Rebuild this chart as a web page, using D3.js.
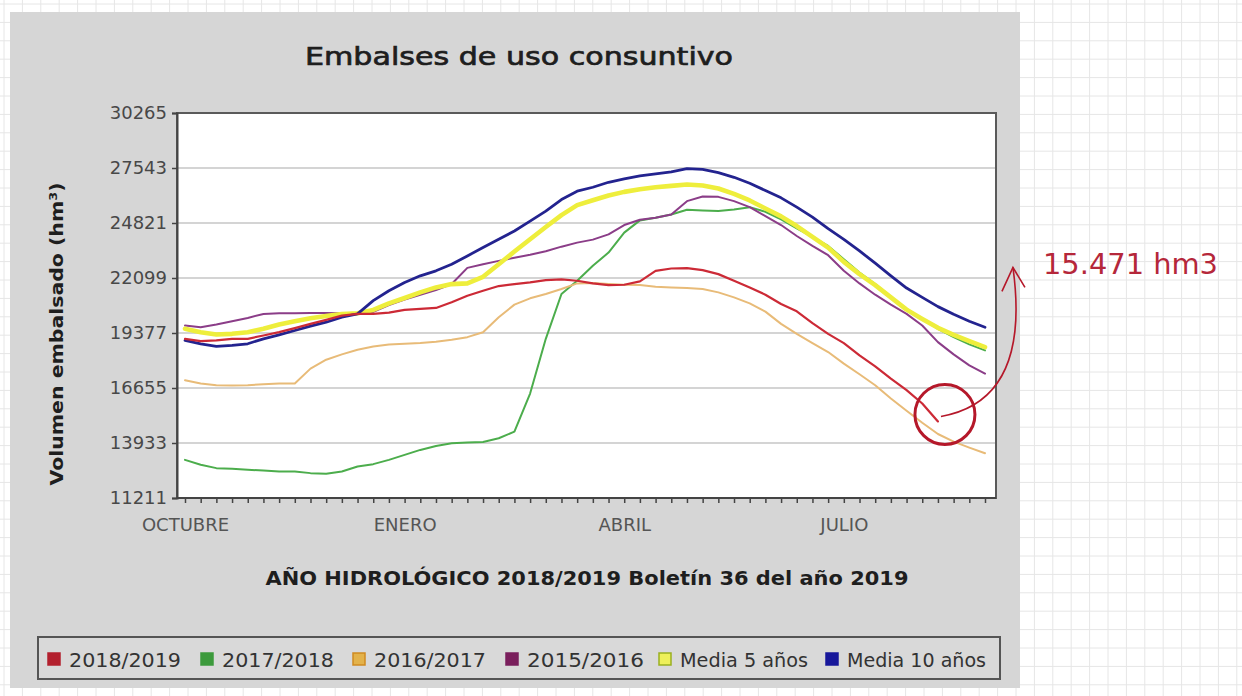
<!DOCTYPE html>
<html><head><meta charset="utf-8">
<script src="https://cdn.jsdelivr.net/npm/d3@7"></script>
<style>
body{margin:0;background:#fff}
svg{display:block}
text{font-family:"DejaVu Sans",sans-serif}
</style>
</head><body>
<svg id="c" width="1242" height="696"></svg>
<script>
// ---------- data ----------
const seriesNames = ["2018/2019","2017/2018","2016/2017","2015/2016","Media 5 años","Media 10 años"];
const monthLabels = ["OCTUBRE","ENERO","ABRIL","JULIO"];
const monthWeeks = [0,14,28,42];
const yTicks = [11211,13933,16655,19377,22099,24821,27543,30265];
const weekCount = 52;

const s2018_2019 = [19090,18975,19008,19090,19090,19254,19418,19615,19829,20026,
  20239,20321,20321,20387,20518,20567,20617,20896,21224,21470,
  21700,21798,21880,21995,22028,21963,21831,21749,21765,21930,
  22455,22570,22586,22488,22291,21963,21634,21273,20814,20452,
  19862,19336,18877,18269,17728,17120,16546,15889,15000];
const s2017_2018 = [13099,12853,12689,12656,12607,12574,12524,12524,12442,12409,
  12524,12771,12886,13099,13345,13591,13788,13919,13952,13985,
  14166,14494,16382,19090,21306,21963,22701,23358,24343,24950,
  25081,25245,25475,25442,25409,25491,25606,25377,24999,24556,
  24129,23686,23029,22373,21798,21175,20567,20075,19583,19172,18811,18516];
const s2016_2017 = [17038,16874,16792,16776,16792,16841,16874,16874,17613,18056,
  18319,18548,18713,18811,18844,18877,18942,19041,19172,19418,
  20157,20781,21093,21306,21552,21831,21847,21798,21765,21749,
  21667,21634,21601,21552,21388,21142,20846,20436,19829,19336,
  18877,18434,17859,17334,16792,16136,15528,14937,14379,14002,13706,13427];
const s2015_2016 = [19747,19665,19796,19960,20124,20321,20354,20354,20370,20370,
  20354,20321,20420,20764,21027,21273,21503,21800,22600,22783,
  22947,23100,23250,23420,23650,23850,23998,24260,24720,24983,
  25081,25245,25902,26132,26115,25902,25606,25163,24720,24178,
  23686,23226,22455,21831,21273,20781,20321,19747,18926,18319,17777,17367];
const media5 = [19583,19418,19304,19336,19418,19583,19796,19960,20108,20223,
  20321,20354,20518,20846,21109,21388,21634,21798,21831,22159,
  22783,23407,24014,24622,25213,25705,25950,26180,26361,26493,
  26591,26657,26723,26673,26526,26263,25935,25541,25147,24671,
  24129,23604,22898,22291,21749,21142,20534,20075,19632,19287,18975,18680];
const media10 = [19008,18844,18712,18762,18844,19090,19287,19500,19714,19910,
  20157,20321,20977,21470,21880,22208,22455,22783,23193,23604,
  24014,24424,24917,25409,25984,26394,26591,26837,27001,27149,
  27248,27346,27510,27477,27313,27083,26788,26427,26066,25606,
  25114,24539,24014,23439,22832,22208,21601,21142,20682,20304,19960,19664];
const annotationText = "15.471 hm3";

// ---------- drawing ----------
const W = 1242, H = 696;
const svg = d3.select("#c");

const seriesData = [s2018_2019, s2017_2018, s2016_2017, s2015_2016, media5, media10];
const lineColors = ["#cc2a36","#4cad4c","#e8bb78","#8b3d88","#eeee3c","#23238f"];
const lineWidths = [2.2,2,2,2,4.6,2.8];
const legendFill = ["#b3202e","#3c9a3c","#e3b24a","#7a1f5c","#eef05a","#17179a"];
const legendStroke = ["#b3202e","#3c9a3c","#d08a20","#7a1f5c","#9ab020","#17179a"];
const drawOrder = [1,3,2,4,5,0];

// page graph-paper background
const gridStep = 18.4;
const bg = svg.append("g");
bg.selectAll("line.v").data(d3.range(4, W, gridStep)).join("line")
  .attr("x1", d=>d).attr("x2", d=>d).attr("y1",0).attr("y2",H)
  .attr("stroke","#e6e6e6").attr("stroke-width",1);
bg.selectAll("line.h").data(d3.range(4, H, gridStep)).join("line")
  .attr("y1", d=>d).attr("y2", d=>d).attr("x1",0).attr("x2",W)
  .attr("stroke","#e6e6e6").attr("stroke-width",1);

// chart panel
svg.append("rect").attr("x",10).attr("y",12).attr("width",1010).attr("height",676)
  .attr("fill","#d6d6d6");

const plot = {left:177, right:996, top:113, bottom:498};
const x = d3.scaleLinear().domain([0, weekCount-1]).range([185, 985]);
const y = d3.scaleLinear().domain([yTicks[0], yTicks[yTicks.length-1]]).range([plot.bottom, plot.top]);

svg.append("rect").attr("x",plot.left).attr("y",plot.top)
  .attr("width",plot.right-plot.left).attr("height",plot.bottom-plot.top).attr("fill","#fff");

// horizontal gridlines
svg.append("g").selectAll("line").data(yTicks).join("line")
  .attr("x1",plot.left).attr("x2",plot.right)
  .attr("y1",d=>y(d)).attr("y2",d=>y(d))
  .attr("stroke","#d4d4d4").attr("stroke-width",2);

// series lines
const line = d3.line().x((d,i)=>x(i)).y(d=>y(d));
const gl = svg.append("g");
drawOrder.forEach(k=>{
  gl.append("path").datum(seriesData[k]).attr("d",line)
    .attr("fill","none").attr("stroke",lineColors[k]).attr("stroke-width",lineWidths[k])
    .attr("stroke-linejoin","round").attr("stroke-linecap","round");
});

// frame
svg.append("rect").attr("x",plot.left).attr("y",plot.top)
  .attr("width",plot.right-plot.left).attr("height",plot.bottom-plot.top)
  .attr("fill","none").attr("stroke","#5a5a5a").attr("stroke-width",2);

// y axis
const yAxis = svg.append("g").attr("transform",`translate(${plot.left},0)`)
  .call(d3.axisLeft(y).tickValues(yTicks).tickFormat(d3.format("d")).tickSize(5).tickPadding(5));
yAxis.select(".domain").attr("stroke","#444").attr("stroke-width",2);
yAxis.selectAll(".tick line").attr("stroke","#444").attr("stroke-width",1.5);
yAxis.selectAll(".tick text").attr("font-size",18).attr("fill","#484848")
  .attr("font-family","DejaVu Sans");

// x axis minor ticks (weekly)
const xAxis = svg.append("g").attr("transform",`translate(0,${plot.bottom})`)
  .call(d3.axisBottom(x).tickValues(d3.range(weekCount)).tickFormat("").tickSize(5));
xAxis.select(".domain").remove();
xAxis.selectAll(".tick line").attr("stroke","#444").attr("stroke-width",1.5);
svg.append("line").attr("x1",plot.left).attr("x2",plot.right)
  .attr("y1",plot.bottom).attr("y2",plot.bottom).attr("stroke","#444").attr("stroke-width",2);

// month labels
const xLab = svg.append("g").attr("transform",`translate(0,${plot.bottom})`)
  .call(d3.axisBottom(x).tickValues(monthWeeks)
    .tickFormat(d=>monthLabels[monthWeeks.indexOf(d)]).tickSize(0).tickPadding(20));
xLab.select(".domain").remove();
xLab.selectAll(".tick text").attr("font-size",18).attr("fill","#555")
  .attr("font-family","DejaVu Sans");

// titles
svg.append("text").attr("x",519).attr("y",65).attr("text-anchor","middle")
  .attr("font-size",25).attr("font-weight","normal").attr("fill","#1e1e1e")
  .attr("stroke","#1e1e1e").attr("stroke-width",0.7)
  .attr("textLength",428).attr("lengthAdjust","spacingAndGlyphs")
  .text("Embalses de uso consuntivo");
svg.append("text").attr("x",587).attr("y",585).attr("text-anchor","middle")
  .attr("font-size",20).attr("font-weight","bold").attr("fill","#1e1e1e")
  .attr("textLength",643).attr("lengthAdjust","spacingAndGlyphs")
  .text("AÑO HIDROLÓGICO 2018/2019 Boletín 36 del año 2019");
svg.append("text").attr("transform","translate(63,334) rotate(-90)").attr("text-anchor","middle")
  .attr("font-size",18).attr("font-weight","bold").attr("fill","#1e1e1e")
  .attr("textLength",303).attr("lengthAdjust","spacingAndGlyphs")
  .text("Volumen embalsado (hm³)");

// legend
svg.append("rect").attr("x",38).attr("y",637).attr("width",962).attr("height",42)
  .attr("fill","#d9d9d9").attr("stroke","#555").attr("stroke-width",2);
const legX = [48,201,353,506,659,826];
const legW = [112,112,112,117,128,139];
const lg = svg.append("g").selectAll("g").data(seriesNames).join("g")
  .attr("transform",(d,i)=>`translate(${legX[i]},659)`);
lg.append("rect").attr("x",0).attr("y",-6).attr("width",12).attr("height",12)
  .attr("fill",(d,i)=>legendFill[i]).attr("stroke",(d,i)=>legendStroke[i]).attr("stroke-width",1.5);
lg.append("text").attr("x",21).attr("y",8).attr("font-size",20).attr("fill","#333")
  .attr("textLength",(d,i)=>legW[i]).attr("lengthAdjust","spacingAndGlyphs")
  .text(d=>d);

// annotation
const lastIdx = s2018_2019.length-1;
const ax = x(lastIdx), ay = y(s2018_2019[lastIdx]);
svg.append("circle").attr("cx",ax+7).attr("cy",ay-7).attr("r",30)
  .attr("fill","none").attr("stroke","#b5182a").attr("stroke-width",3);
svg.append("path")
  .attr("d",`M${ax+3},${ay-5} C${ax+60},${ay-15} ${ax+88},${ay-60} ${ax+75},${ay-154}`)
  .attr("fill","none").attr("stroke","#b5182a").attr("stroke-width",1.6);
svg.append("path")
  .attr("d",`M${ax+64},${ay-130} L${ax+75},${ay-154} L${ax+87},${ay-134}`)
  .attr("fill","none").attr("stroke","#b5182a").attr("stroke-width",1.6);
svg.append("text").attr("x",1043).attr("y",274)
  .attr("font-family","Lato, 'Open Sans', sans-serif").attr("font-size",28).attr("fill","#b5273a")
  .attr("textLength",175).attr("lengthAdjust","spacingAndGlyphs")
  .text(annotationText);
</script>
</body></html>
